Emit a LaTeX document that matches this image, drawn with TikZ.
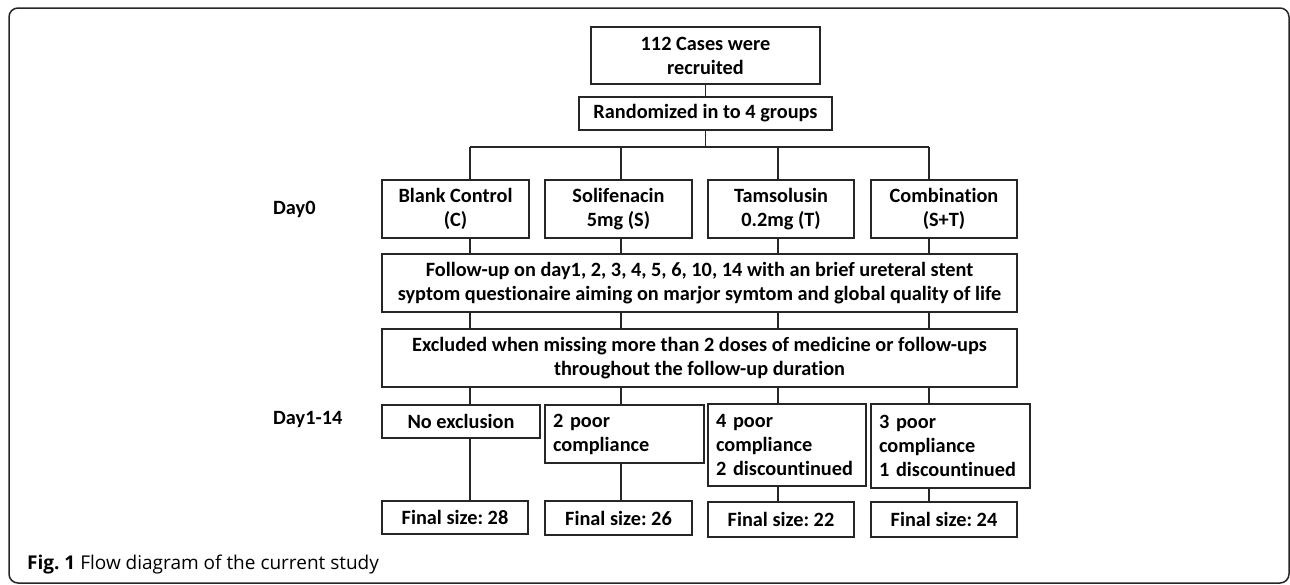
\documentclass[tikz,border=0pt]{standalone}
\usepackage{fontspec}
\setmainfont{Carlito}[Ligatures=NoCommon]
\newfontfamily\capfont{Open Sans}
\usetikzlibrary{positioning,calc}
\tikzset{
  box/.style  ={draw=black!85,line width=1.6pt,align=center,inner sep=0pt,
                font=\fontsize{20.3}{24}\selectfont\bfseries},
  lbox/.style ={box,align=left,inner xsep=8pt},
  day/.style  ={anchor=west,inner sep=0pt,font=\fontsize{20.3}{24}\selectfont\bfseries},
  ln/.style   ={draw=black!85,line width=1.6pt},
  frame/.style={draw=black!85,line width=1.5pt,rounded corners=9pt},
}

\begin{document}
\frenchspacing
\begin{tikzpicture}[x=1pt,y=-1pt]
  \useasboundingbox (0,0) rectangle (1290,584);
  \draw[frame] (9,8) rectangle (1289,583);
  \node[box,minimum width=229pt,minimum height=57pt] (cases) at (705.5,55.5) {112 Cases were\\recruited};
  \node[box,minimum width=253pt,minimum height=33pt] (rand) at (705.5,113.5) {Randomized in to 4 groups};
  % the four arms
  \node[box,minimum width=147pt,minimum height=58pt] (bc)   at (455.5,209) {Blank Control\\(C)};
  \node[box,minimum width=147pt,minimum height=58pt] (sol)  at (618.5,209) {Solifenacin\\5mg (S)};
  \node[box,minimum width=146pt,minimum height=58pt] (tam)  at (781,209)   {Tamsolusin\\0.2mg (T)};
  \node[box,minimum width=146pt,minimum height=58pt] (comb) at (944,209)   {Combination\\(S+T)};
  \node[box,minimum width=635pt,minimum height=58pt] (fu)   at (699.5,283)
        {Follow-up on day1, 2, 3, 4, 5, 6, 10, 14 with an brief ureteral stent\\
         syptom questionaire aiming on marjor symtom and global quality of life};
  \node[box,minimum width=635pt,minimum height=58pt] (excl) at (699.5,358)
        {Excluded when missing more than 2 doses of medicine or follow-ups\\
         throughout the follow-up duration};
  \node[box,minimum width=158pt,minimum height=33pt] (noex) at (461,421.5) {No exclusion};
  \node[lbox,text width=143pt,minimum height=58pt] (poor2) at (624.5,434) {2 poor\\compliance};
  \node[lbox,text width=142pt,minimum height=82pt] (poor4) at (787,445) {4 poor\\compliance\\2 discountinued};
  \node[lbox,text width=143pt,minimum height=84pt] (poor3) at (950.5,446) {3 poor\\compliance\\1 discountinued};
  \node[box,minimum width=146pt,minimum height=33pt] (fin28) at (455,517.5) {Final size: 28};
  \node[box,minimum width=147pt,minimum height=34pt] (fin26) at (618.5,518) {Final size: 26};
  \node[box,minimum width=146pt,minimum height=35pt] (fin22) at (781,519.5) {Final size: 22};
  \node[box,minimum width=146pt,minimum height=35pt] (fin24) at (944,519.5) {Final size: 24};
  \node[day] (d0)  at (273,209) {Day0};
  \node[day] (d14) at (273,419) {Day1-14};
  \node[anchor=west,inner sep=0pt,font=\capfont\fontsize{19}{22}\selectfont] (cap) at (27,565)
        {\textbf{Fig. 1} Flow diagram of the current study};
  % connectors
  \coordinate (k1) at (470,147);
  \coordinate (k2) at (621,147);
  \coordinate (k3) at (778,147);
  \coordinate (k4) at (929,147);
  \draw[ln] (cases.south) -- (rand.north);
  \draw[ln] (rand.south) -- (rand.south |- k1);
  \draw[ln] (k1) -- (k4);
  \foreach \k/\g/\r/\f in {k1/bc/noex/fin28,k2/sol/poor2/fin26,k3/tam/poor4/fin22,k4/comb/poor3/fin24}{
    \draw[ln] (\k) -- (\k |- \g.north);
    \draw[ln] (\k |- \g.south) -- (\k |- fu.north);
    \draw[ln] (\k |- fu.south) -- (\k |- excl.north);
    \draw[ln] (\k |- excl.south) -- (\k |- \r.north);
    \draw[ln] (\k |- \r.south) -- (\k |- \f.north);
  }
\end{tikzpicture}
\end{document}
